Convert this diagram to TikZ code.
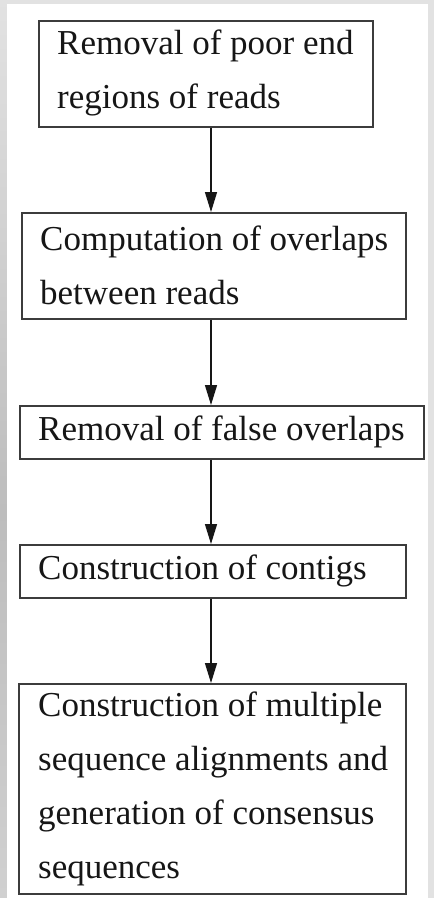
\documentclass[tikz,border=0pt]{standalone}
\usepackage{fontspec}
\setmainfont{Liberation Serif}
\usetikzlibrary{arrows.meta}

\definecolor{frame}{HTML}{E2E2E2}
\definecolor{frameshade}{HTML}{BDBDBD}
\definecolor{framelow}{HTML}{D0D0D0}
\definecolor{ink}{HTML}{161616}
\definecolor{edge}{HTML}{3C3C3C}

\tikzset{
  stepbox/.style={draw=edge, line width=1.6pt, fill=white, anchor=north west,
    inner sep=0pt},
  steptext/.style={anchor=west, inner sep=0pt, align=left, text=ink,
    font=\fontsize{35}{54}\selectfont},
  flow/.style={draw=ink, line width=1.4pt,
    -{Triangle[length=20pt,width=12pt]}},
}

\begin{document}
\begin{tikzpicture}[x=1pt,y=-1pt]
  \useasboundingbox (0,0) rectangle (434,898);
  % page edge and white sheet
  \fill[frame] (0,0) rectangle (434,898);
  \shade[top color=frame, bottom color=frameshade] (0,0) rectangle (7,510);
  \shade[top color=frameshade, bottom color=framelow] (0,510) rectangle (7,898);
  \fill[white] (7,4) rectangle (428,898);

  % processing steps: frames
  \node[stepbox, minimum width=334, minimum height=106] (s1) at (38,20) {};
  \node[stepbox, minimum width=384, minimum height=106] (s2) at (21,212) {};
  \node[stepbox, minimum width=404, minimum height=53]  (s3) at (19,405) {};
  \node[stepbox, minimum width=386, minimum height=53]  (s4) at (19,544) {};
  \node[stepbox, minimum width=387, minimum height=210] (s5) at (18,683) {};

  % processing steps: labels
  \node[steptext] (t1) at ([xshift=19pt,yshift=1pt]s1.west)
    {Removal of poor end\\regions of reads};
  \node[steptext] (t2) at ([xshift=19pt,yshift=0pt]s2.west)
    {Computation of overlaps\\between reads};
  \node[steptext] (t3) at ([xshift=19pt,yshift=0pt]s3.west)
    {Removal of false overlaps};
  \node[steptext] (t4) at ([xshift=19pt,yshift=0pt]s4.west)
    {Construction of contigs};
  \node[steptext] (t5) at ([xshift=20pt,yshift=0pt]s5.west)
    {Construction of multiple\\sequence alignments and\\generation of consensus\\sequences};

  % connectors
  \coordinate (a1) at (211,126);
  \draw[flow] (s1.south -| a1) -- (s2.north -| a1);
  \draw[flow] (s2.south -| a1) -- (s3.north -| a1);
  \draw[flow] (s3.south -| a1) -- (s4.north -| a1);
  \draw[flow] (s4.south -| a1) -- (s5.north -| a1);
\end{tikzpicture}
\end{document}
